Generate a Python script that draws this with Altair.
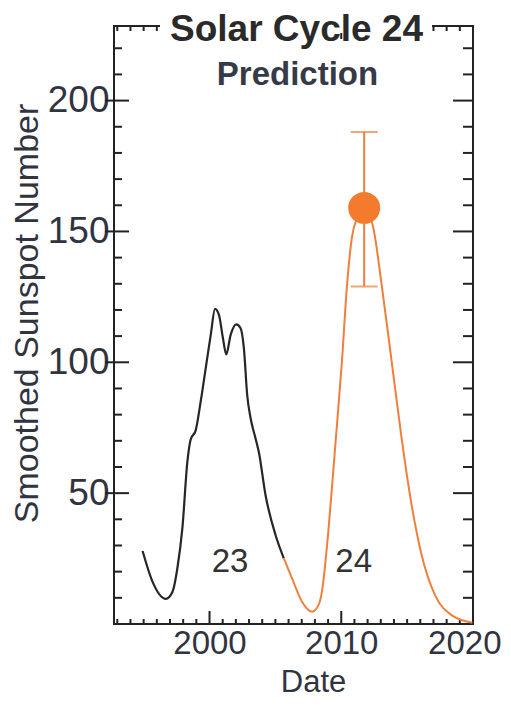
import altair as alt
import pandas as pd

FONT = "Liberation Sans"
LC = "#30343f"
INK = "#222222"
ORANGE = "#ef7f3c"

# Cycle 23 (observed, black)
c23_year = [1994.92, 1995.67, 1996.69, 1997.19, 1997.56, 1997.94, 1998.32, 1998.57,
            1998.95, 1999.33, 1999.71, 2000.09, 2000.42, 2000.72, 2001.02, 2001.27,
            2001.6, 2002.03, 2002.36, 2002.61, 2002.86, 2003.12, 2003.49, 2003.74,
            2004.25, 2005.01, 2005.64]
c23_val = [27.9, 16.2, 9.6, 12.3, 21.3, 36.6, 62.0, 70.5,
           74.0, 85.0, 97.7, 110.4, 120.4, 118.0, 109.2, 103.0,
           110.4, 114.5, 113.0, 105.3, 87.5, 78.6, 71.0, 65.8,
           49.3, 34.0, 25.1]

# Cycle 24 (predicted, orange)
c24_year = [2005.64, 2006.26, 2007.02, 2007.78, 2008.28, 2008.53, 2009.04, 2009.55,
            2010.05, 2010.42, 2010.8, 2011.18, 2011.76, 2012.44, 2013.07, 2013.83,
            2014.58, 2015.34, 2016.1, 2017.11, 2018.37, 2019.95]
c24_val = [25.1, 17.5, 8.5, 4.7, 7.3, 12.3, 36.6, 68.4,
           100.2, 128.3, 147.4, 155.0, 159.0, 151.2, 129.5, 100.2,
           71.0, 45.5, 26.4, 11.1, 3.4, 0.5]

# Predicted maximum with error range
peak_year = [2011.74]
peak_val = [159.0]
peak_low = [129.0]
peak_high = [188.0]

# Cycle number annotations
ann_text = ["23", "24"]
ann_year = [2001.56, 2010.94]
ann_val = [19.9, 19.9]

# Tick positions
x_label_values = [2000, 2010, 2020]
x_minor = [y for y in range(1993, 2020) if y not in (2000, 2010)]
x_major = [2000, 2010]
y_label_values = [50, 100, 150, 200]
y_minor = [v for v in range(10, 230, 10) if v % 50 != 0]
y_major = [50, 100, 150, 200]

title_text = ["Solar Cycle 24"]
subtitle_text = ["Prediction"]

W, H = 359, 598

xs = alt.Scale(domain=[1992.75, 2020], nice=False, zero=False)
ys = alt.Scale(domain=[0, 228.5], nice=False, zero=False)

xaxis = alt.Axis(values=x_label_values, format="d", ticks=False, domain=False, grid=False,
                 labelFontSize=33, labelFont=FONT, labelColor=LC, labelPadding=3,
                 labelFlush=True, labelFlushOffset=28,
                 title="Date", titleFontSize=31, titleFont=FONT, titleFontWeight="normal",
                 titleColor=LC, titleX=199, titleY=67, titleBaseline="alphabetic")
yaxis = alt.Axis(values=y_label_values, ticks=False, domain=False, grid=False,
                 labelFontSize=37, labelFont=FONT, labelColor=LC, labelPadding=5,
                 title="Smoothed Sunspot Number", titleFontSize=34, titleFont=FONT,
                 titleFontWeight="normal", titleColor=LC, titleX=-77, titleY=287,
                 titleAngle=270, titleBaseline="alphabetic", titleAlign="center")

X = alt.X("year:Q", scale=xs, axis=xaxis)
Y = alt.Y("value:Q", scale=ys, axis=yaxis)

df23 = pd.DataFrame({"year": c23_year, "value": c23_val})
df24 = pd.DataFrame({"year": c24_year, "value": c24_val})
dpk = pd.DataFrame({"year": peak_year, "value": peak_val, "low": peak_low, "high": peak_high})
dcaps = pd.DataFrame({"year": peak_year * 2, "value": peak_low + peak_high})
dann = pd.DataFrame({"year": ann_year, "value": ann_val, "label": ann_text})
dxmin = pd.DataFrame({"year": x_minor})
dxmaj = pd.DataFrame({"year": x_major})
dymin = pd.DataFrame({"value": y_minor})
dymaj = pd.DataFrame({"value": y_major})
dtitle = pd.DataFrame({"t": title_text})
dsub = pd.DataFrame({"t": subtitle_text})

base_line = alt.Chart(df23).mark_line(color="#262626", strokeWidth=2.2, interpolate="monotone").encode(x=X, y=Y)
line24 = alt.Chart(df24).mark_line(color=ORANGE, strokeWidth=2.0, interpolate="monotone").encode(x=X, y=Y)

tick_style = dict(color=INK, strokeWidth=2)
bx_min = alt.Chart(dxmin).mark_rule(**tick_style).encode(x=X, y=alt.value(H), y2=alt.value(H - 5))
bx_maj = alt.Chart(dxmaj).mark_rule(**tick_style).encode(x=X, y=alt.value(H), y2=alt.value(H - 13))
tx_min = alt.Chart(dxmin).mark_rule(**tick_style).encode(x=X, y=alt.value(0), y2=alt.value(5))
tx_maj = alt.Chart(dxmaj).mark_rule(**tick_style).encode(x=X, y=alt.value(0), y2=alt.value(13))
ly_min = alt.Chart(dymin).mark_rule(**tick_style).encode(y=Y, x=alt.value(0), x2=alt.value(8))
ly_maj = alt.Chart(dymaj).mark_rule(**tick_style).encode(y=Y, x=alt.value(-9), x2=alt.value(15))
ry_min = alt.Chart(dymin).mark_rule(**tick_style).encode(y=Y, x=alt.value(W), x2=alt.value(W - 10))
ry_maj = alt.Chart(dymaj).mark_rule(**tick_style).encode(y=Y, x=alt.value(W), x2=alt.value(W - 20))

title_bg = alt.Chart(dtitle).mark_rect(fill="white").encode(
    x=alt.value(46), x2=alt.value(318), y=alt.value(-9), y2=alt.value(7))

err = alt.Chart(dpk).mark_rule(color=ORANGE, strokeWidth=2).encode(x=X, y=Y, y2="high:Q")
err_low = alt.Chart(dpk).mark_rule(color=ORANGE, strokeWidth=2).encode(x=X, y=alt.Y("low:Q", scale=ys, axis=yaxis), y2="value:Q")
caps = alt.Chart(dcaps).mark_tick(color=ORANGE, orient="horizontal", size=27, thickness=2).encode(x=X, y=Y)
circle = alt.Chart(dpk).mark_circle(color="#f47b2e", opacity=1, size=1020).encode(x=X, y=Y)

ann = alt.Chart(dann).mark_text(fontSize=33, font=FONT, color="#333333", align="center",
                                baseline="alphabetic").encode(x=X, y=Y, text="label:N")

title = alt.Chart(dtitle).mark_text(fontSize=37, font=FONT, fontWeight="bold", color="#2a2a2a",
                                    align="center", baseline="alphabetic").encode(
    x=alt.value(182.5), y=alt.value(15), text="t:N")
subtitle = alt.Chart(dsub).mark_text(fontSize=33, font=FONT, fontWeight="bold", color="#353a47",
                                     align="center", baseline="alphabetic").encode(
    x=alt.value(183.5), y=alt.value(59), text="t:N")

chart = alt.layer(
    base_line, bx_min, bx_maj, tx_min, tx_maj, ly_min, ly_maj, ry_min, ry_maj,
    title_bg, line24, err, err_low, caps, circle, ann, title, subtitle
).properties(
    width=W, height=H,
    padding={"left": 106, "top": 18, "right": 30, "bottom": 75},
    autosize=alt.AutoSizeParams(type="none"),
    background="white",
).configure_view(stroke=INK, strokeWidth=2)

chart.save("out.html", embed_options={"renderer": "svg", "actions": False})
